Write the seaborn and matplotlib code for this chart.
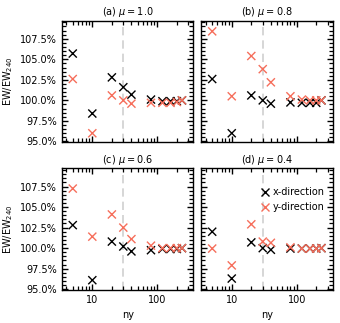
import numpy as np
import pandas as pd
import matplotlib
matplotlib.use("Agg")
import matplotlib.pyplot as plt
from matplotlib.ticker import PercentFormatter, MultipleLocator, LogLocator, NullFormatter
import seaborn as sns

ny = [5, 10, 20, 30, 40, 80, 120, 160, 200, 240]
mus = [1.0, 0.8, 0.6, 0.4]
panel_tags = ["(a)", "(b)", "(c)", "(d)"]

# EW / EW_240 in percent
x_dir = {
    1.0: [105.7, 98.4, 102.8, 101.6, 100.7, 100.1, 99.9, 99.9, 99.9, 100.0],
    0.8: [102.6, 96.0, 100.6, 100.0, 99.6, 99.75, 99.7, 99.7, 99.7, 100.0],
    0.6: [102.8, 96.1, 100.8, 100.2, 99.6, 99.75, 99.9, 99.9, 99.9, 100.0],
    0.4: [102.0, 96.3, 100.7, 100.0, 99.8, 99.95, 99.95, 99.95, 99.95, 100.0],
}
y_dir = {
    1.0: [102.6, 96.0, 100.6, 100.0, 99.6, 99.7, 99.7, 99.7, 99.8, 100.0],
    0.8: [108.4, 100.5, 105.4, 103.8, 102.2, 100.5, 100.1, 100.0, 100.0, 100.0],
    0.6: [107.25, 101.4, 104.1, 102.5, 101.1, 100.3, 100.0, 100.0, 100.0, 100.0],
    0.4: [99.95, 97.9, 102.9, 100.8, 100.65, 100.1, 99.95, 99.95, 99.95, 100.0],
}

plt.rcParams["font.family"] = ["DejaVu Sans"]
plt.rcParams["font.size"] = 7
plt.rcParams["mathtext.fontset"] = "dejavusans"

fig, axes = plt.subplots(2, 2, figsize=(3.4, 3.23), dpi=100, sharex=True, sharey=True)
fig.subplots_adjust(left=0.182, right=0.979, top=0.936, bottom=0.102, wspace=0.06, hspace=0.215)

red = "#f66e5b"

for ax, mu, tag in zip(axes.flat, mus, panel_tags):
    df = pd.DataFrame({
        "ny": ny * 2,
        "ratio": np.array(x_dir[mu] + y_dir[mu]) / 100.0,
        "dir": ["x-direction"] * len(ny) + ["y-direction"] * len(ny),
    })
    ax.axvline(30, color="#d0d0d0", ls=(0, (5, 3)), lw=1.2, zorder=0)
    sns.scatterplot(data=df, x="ny", y="ratio", hue="dir", palette=["black", red],
                    marker="x", s=34, linewidth=1.0, ax=ax, legend=(mu == 0.4))
    ax.set_xscale("log")
    ax.set_xlim(3.4, 360)
    ax.set_ylim(0.949, 1.097)
    ax.xaxis.set_minor_locator(LogLocator(base=10, subs=np.arange(2, 10)))
    ax.xaxis.set_minor_formatter(NullFormatter())
    ax.yaxis.set_major_locator(MultipleLocator(0.025))
    ax.yaxis.set_minor_locator(MultipleLocator(0.005))
    ax.yaxis.set_major_formatter(PercentFormatter(xmax=1, decimals=1))
    ax.xaxis.set_major_formatter(matplotlib.ticker.FormatStrFormatter("%d"))
    ax.tick_params(which="both", direction="in", top=True, right=True, labelsize=7, color="black")
    ax.tick_params(which="major", length=4.5, width=1.0)
    ax.tick_params(which="minor", length=2.8, width=0.9)
    ax.set_title(f"{tag} $\\mu = {mu}$", fontsize=7, pad=4)
    ax.set_xlabel("ny" if ax in axes[1] else "", fontsize=7)
    ax.set_ylabel("EW/EW$_{240}$" if ax in axes[:, 0] else "", fontsize=7)
    for sp in ax.spines.values():
        sp.set_linewidth(1.0)

leg = axes[1, 1].legend(loc="upper right", bbox_to_anchor=(0.99, 0.9), frameon=False, fontsize=7,
                        handletextpad=0.3, borderaxespad=0.3, handlelength=1.0)

fig.savefig("out.png", dpi=100)
